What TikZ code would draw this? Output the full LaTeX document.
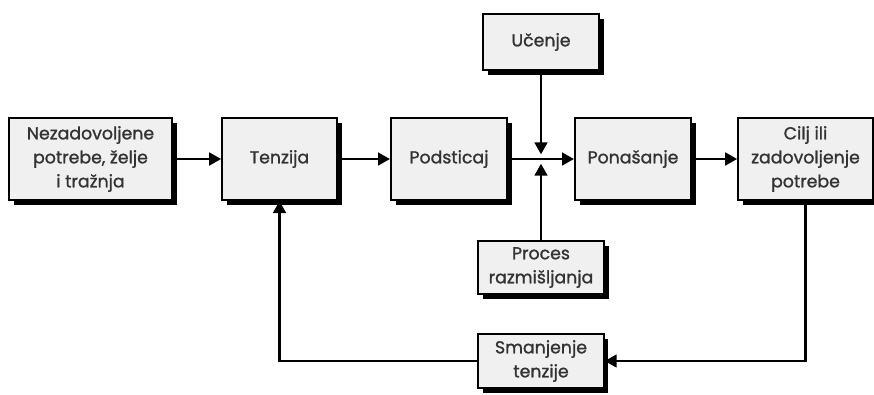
\documentclass[tikz,border=0pt]{standalone}
\usepackage{fontspec}
\setmainfont{Poppins}[FakeBold=1.2]
\usetikzlibrary{shadows,arrows.meta}

\tikzset{
	kasten/.style={draw=black, line width=1.5pt, fill=gray!12, align=center,
		text=black!80, font=\fontsize{13}{18}\selectfont, inner sep=2pt,
		drop shadow={shadow xshift=3.6pt, shadow yshift=-3.6pt, fill=black, opacity=1}},
	pfeil/.style={line width=2pt, -{Triangle[length=9pt, width=9.5pt]}},
	linie/.style={line width=2pt}
}

\begin{document}
\begin{tikzpicture}[x=0.75pt, y=-0.75pt]
	% Rahmen
	\fill[white] (0,0) rectangle (874,394);
	\useasboundingbox (0,0) rectangle (874,394);

	% Hauptzeile
	\node[kasten, minimum width=122pt, minimum height=61.5pt] (bedarf) at (90.5, 159)
		{Nezadovoljene\\potrebe, želje\\i tražnja};
	\node[kasten, minimum width=86pt, minimum height=61.5pt] (tenzija) at (279.5, 159)
		{Tenzija};
	\node[kasten, minimum width=87pt, minimum height=61.5pt] (podsticaj) at (449, 159)
		{Podsticaj};
	\node[kasten, minimum width=87pt, minimum height=61.5pt] (ponasanje) at (633, 159)
		{Ponašanje};
	\node[kasten, minimum width=101pt, minimum height=61.5pt] (cilj) at (805.5, 159)
		{Cilj ili\\zadovoljenje\\potrebe};

	% Einfluesse oben und unten
	\node[kasten, minimum width=87pt, minimum height=42pt] (ucenje) at (541, 42)
		{Učenje};
	\node[kasten, minimum width=94.5pt, minimum height=40pt] (proces) at (541, 267.5)
		{Proces\\razmišljanja};
	\node[kasten, minimum width=94pt, minimum height=40.5pt] (smanjenje) at (541, 361)
		{Smanjenje\\tenzije};
	\coordinate (knoten) at (541, 159);

	% Pfeile
	\draw[pfeil] (bedarf) -- (tenzija);
	\draw[pfeil] (tenzija) -- (podsticaj);
	\draw[pfeil] (podsticaj) -- (ponasanje);
	\draw[pfeil] (ponasanje) -- (cilj);
	\draw[pfeil, shorten >=3.5pt] (ucenje) -- (knoten);
	\draw[pfeil, shorten >=3.5pt] (proces) -- (knoten);

	% Rueckkopplung
	\draw[pfeil] (cilj.south) |- (smanjenje.east);
	\draw[pfeil] (smanjenje.west) -| (tenzija.south);
\end{tikzpicture}
\end{document}
